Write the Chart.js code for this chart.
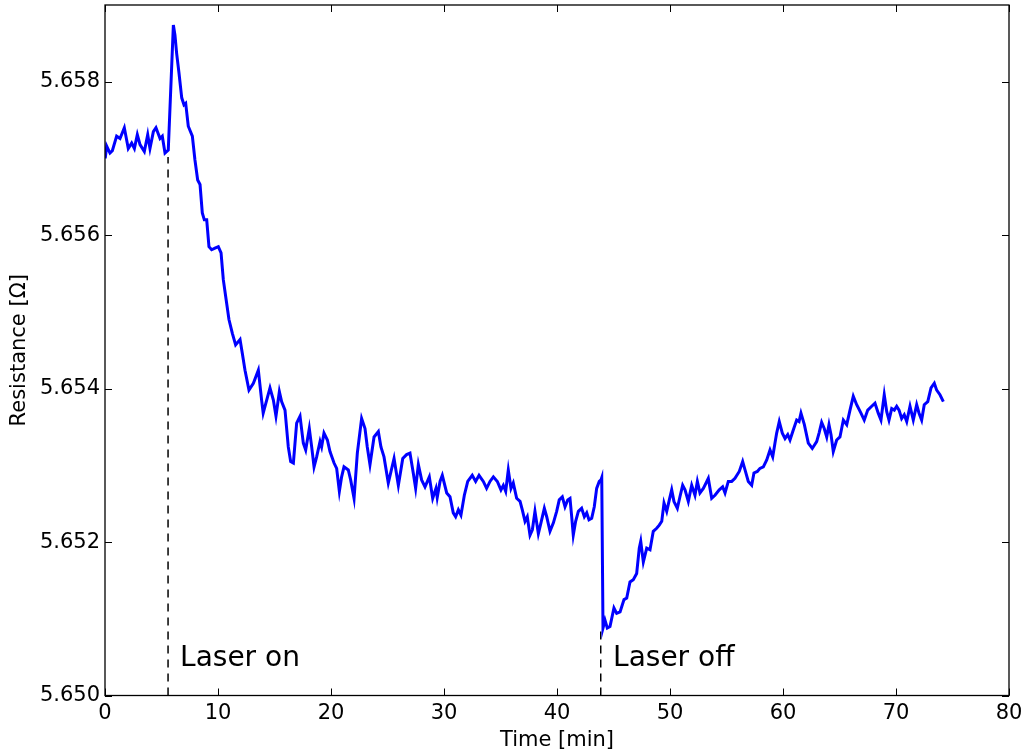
<!DOCTYPE html>
<html>
<head>
<meta charset="utf-8">
<script src="https://cdn.jsdelivr.net/npm/chart.js@4/dist/chart.umd.min.js"></script>
<style>
  html, body { margin: 0; padding: 0; background: #fff; }
</style>
</head>
<body>
<canvas id="c" width="1027" height="753"></canvas>
<script>
// time in minutes, resistance in ohm
const timeMin = [
  0.02, 0.15, 0.44, 0.65, 1.03, 1.33, 1.71, 2.06, 2.36, 2.60, 2.86, 3.10, 3.48, 3.78, 3.98,
  4.28, 4.51, 4.87, 5.07, 5.31, 5.60, 6.05, 6.19, 6.34, 6.55, 6.79, 6.99, 7.14, 7.37, 7.73,
  7.96, 8.20, 8.41, 8.61, 8.79, 9.00, 9.20, 9.44, 9.73, 10.03, 10.27, 10.47, 10.68, 10.97, 11.27,
  11.56, 11.95, 12.15, 12.39, 12.74, 13.13, 13.57, 13.86, 14.00, 14.60, 14.90, 15.13, 15.43, 15.63, 15.93,
  16.22, 16.43, 16.67, 16.96, 17.26, 17.55, 17.76, 18.08, 18.29, 18.50, 18.73, 19.03, 19.17, 19.38, 19.68,
  19.91, 20.27, 20.50, 20.74, 20.94, 21.15, 21.53, 21.74, 22.04, 22.33, 22.71, 23.01, 23.21, 23.45, 23.81,
  24.19, 24.42, 24.69, 25.07, 25.58, 25.96, 26.35, 26.69, 26.99, 27.28, 27.49, 27.73, 28.02, 28.32, 28.70,
  29.00, 29.29, 29.40, 29.65, 29.85, 30.24, 30.53, 30.82, 31.03, 31.27, 31.50, 31.80, 32.10, 32.50, 32.80,
  33.10, 33.48, 33.77, 34.07, 34.37, 34.72, 35.04, 35.25, 35.46, 35.69, 35.93, 36.13, 36.43, 36.73, 36.93,
  37.17, 37.37, 37.61, 37.82, 38.05, 38.35, 38.58, 38.88, 39.09, 39.38, 39.68, 39.97, 40.20, 40.47, 40.71,
  40.95, 41.15, 41.30, 41.44, 41.65, 41.89, 42.18, 42.42, 42.63, 42.83, 43.07, 43.30, 43.51, 43.74, 43.89,
  43.96, 44.07, 44.25, 44.45, 44.69, 45.04, 45.28, 45.58, 45.93, 46.17, 46.46, 46.75, 47.05, 47.28, 47.41,
  47.64, 47.94, 48.23, 48.52, 48.82, 49.05, 49.27, 49.47, 49.71, 49.94, 50.15, 50.35, 50.65, 50.88, 51.12,
  51.33, 51.62, 51.92, 52.21, 52.42, 52.65, 52.95, 53.19, 53.39, 53.69, 53.98, 54.36, 54.66, 54.87, 55.16,
  55.46, 55.75, 56.13, 56.43, 56.64, 56.93, 57.23, 57.43, 57.73, 57.96, 58.26, 58.56, 58.85, 59.09, 59.29,
  59.44, 59.67, 59.94, 60.18, 60.42, 60.62, 60.91, 61.21, 61.42, 61.59, 61.89, 62.24, 62.59, 62.98, 63.19,
  63.42, 63.65, 63.87, 64.07, 64.25, 64.45, 64.75, 65.04, 65.34, 65.64, 65.93, 66.22, 66.52, 66.90, 67.19,
  67.50, 67.85, 68.14, 68.43, 68.67, 68.96, 69.18, 69.38, 69.62, 69.85, 70.06, 70.27, 70.50, 70.73, 70.95,
  71.24, 71.53, 71.83, 72.04, 72.27, 72.50, 72.81, 73.10, 73.39, 73.60, 73.89, 74.19
];
const resistance = [
  5.65700, 5.65716, 5.65707, 5.65710, 5.65729, 5.65726, 5.65740, 5.65713, 5.65720, 5.65713, 5.65731, 5.65718, 5.65709, 5.65731, 5.65713,
  5.65735, 5.65740, 5.65726, 5.65729, 5.65707, 5.65711, 5.65874, 5.65861, 5.65837, 5.65811, 5.65779, 5.65770, 5.65772, 5.65742, 5.65729,
  5.65698, 5.65672, 5.65666, 5.65629, 5.65620, 5.65620, 5.65585, 5.65581, 5.65583, 5.65585, 5.65577, 5.65542, 5.65520, 5.65490, 5.65472,
  5.65457, 5.65464, 5.65446, 5.65424, 5.65398, 5.65407, 5.65424, 5.65385, 5.65368, 5.65401, 5.65385, 5.65364, 5.65396, 5.65383, 5.65372,
  5.65324, 5.65305, 5.65303, 5.65355, 5.65364, 5.65329, 5.65320, 5.65348, 5.65324, 5.65298, 5.65311, 5.65331, 5.65324, 5.65342, 5.65333,
  5.65318, 5.65303, 5.65296, 5.65266, 5.65285, 5.65298, 5.65294, 5.65281, 5.65257, 5.65316, 5.65361, 5.65348, 5.65324, 5.65301, 5.65337,
  5.65344, 5.65324, 5.65311, 5.65277, 5.65309, 5.65274, 5.65309, 5.65314, 5.65316, 5.65290, 5.65270, 5.65301, 5.65281, 5.65272, 5.65285,
  5.65257, 5.65270, 5.65258, 5.65279, 5.65287, 5.65264, 5.65259, 5.65238, 5.65233, 5.65242, 5.65235, 5.65261, 5.65279, 5.65287, 5.65279,
  5.65287, 5.65279, 5.65270, 5.65279, 5.65285, 5.65279, 5.65268, 5.65274, 5.65266, 5.65294, 5.65270, 5.65277, 5.65257, 5.65253, 5.65242,
  5.65227, 5.65233, 5.65209, 5.65216, 5.65240, 5.65211, 5.65225, 5.65244, 5.65233, 5.65214, 5.65225, 5.65240, 5.65255, 5.65259, 5.65246,
  5.65255, 5.65257, 5.65233, 5.65209, 5.65227, 5.65240, 5.65244, 5.65233, 5.65238, 5.65229, 5.65231, 5.65246, 5.65270, 5.65279, 5.65281,
  5.65284, 5.65088, 5.65098, 5.65088, 5.65090, 5.65114, 5.65107, 5.65109, 5.65125, 5.65127, 5.65148, 5.65151, 5.65159, 5.65192, 5.65201,
  5.65174, 5.65192, 5.65190, 5.65214, 5.65218, 5.65222, 5.65227, 5.65251, 5.65240, 5.65255, 5.65268, 5.65253, 5.65244, 5.65259, 5.65274,
  5.65268, 5.65253, 5.65274, 5.65261, 5.65279, 5.65264, 5.65270, 5.65277, 5.65283, 5.65257, 5.65261, 5.65268, 5.65272, 5.65264, 5.65279,
  5.65279, 5.65283, 5.65292, 5.65305, 5.65294, 5.65279, 5.65274, 5.65290, 5.65292, 5.65296, 5.65298, 5.65307, 5.65320, 5.65311, 5.65329,
  5.65342, 5.65357, 5.65342, 5.65335, 5.65340, 5.65333, 5.65346, 5.65359, 5.65357, 5.65368, 5.65353, 5.65329, 5.65322, 5.65331, 5.65342,
  5.65356, 5.65348, 5.65337, 5.65353, 5.65340, 5.65318, 5.65333, 5.65337, 5.65359, 5.65353, 5.65372, 5.65390, 5.65379, 5.65368, 5.65359,
  5.65372, 5.65377, 5.65381, 5.65368, 5.65359, 5.65392, 5.65370, 5.65359, 5.65374, 5.65372, 5.65377, 5.65372, 5.65361, 5.65366, 5.65357,
  5.65377, 5.65359, 5.65379, 5.65368, 5.65359, 5.65379, 5.65383, 5.65401, 5.65407, 5.65398, 5.65392, 5.65383
];

const xTicks = [0, 10, 20, 30, 40, 50, 60, 70, 80];
const yTicks = [5.650, 5.652, 5.654, 5.656, 5.658];

// laser switching marks: time, top of the dashed line
const laserOn = { t: 5.58, top: 5.65702, label: "Laser on", labelT: 6.64 };
const laserOff = { t: 43.87, top: 5.65089, label: "Laser off", labelT: 44.96 };
const labelR = 5.65038;

const FONT = "'DejaVu Sans', sans-serif";

const points = timeMin.map((t, i) => ({ x: t, y: resistance[i] }));

// frame, inward ticks on four sides, and the two text labels
const framePlugin = {
  id: "frame",
  afterDraw(chart) {
    const ctx = chart.ctx;
    const a = chart.chartArea;
    const xs = chart.scales.x, ys = chart.scales.y;
    const tl = 7;
    ctx.save();
    ctx.strokeStyle = "#000";
    ctx.lineWidth = 1.3;
    ctx.strokeRect(a.left, a.top, a.right - a.left, a.bottom - a.top);
    ctx.lineWidth = 1;
    ctx.beginPath();
    xTicks.forEach(v => {
      const px = Math.round(xs.getPixelForValue(v)) + 0.5;
      ctx.moveTo(px, a.bottom); ctx.lineTo(px, a.bottom - tl);
      ctx.moveTo(px, a.top); ctx.lineTo(px, a.top + tl);
    });
    yTicks.forEach(v => {
      const py = Math.round(ys.getPixelForValue(v)) + 0.5;
      ctx.moveTo(a.left, py); ctx.lineTo(a.left + tl, py);
      ctx.moveTo(a.right, py); ctx.lineTo(a.right - tl, py);
    });
    ctx.stroke();

    ctx.fillStyle = "#000";
    ctx.font = "28px " + FONT;
    ctx.textAlign = "left";
    ctx.textBaseline = "alphabetic";
    [laserOn, laserOff].forEach(m => {
      ctx.fillText(m.label, xs.getPixelForValue(m.labelT), ys.getPixelForValue(labelR));
    });
    ctx.restore();
  }
};

new Chart(document.getElementById("c"), {
  type: "scatter",
  data: {
    datasets: [
      {
        data: points,
        showLine: true,
        borderColor: "#0000ff",
        borderWidth: 3,
        pointRadius: 0,
        tension: 0,
        fill: false
      },
      {
        data: [{ x: laserOn.t, y: 5.650 }, { x: laserOn.t, y: laserOn.top }],
        showLine: true,
        borderColor: "#000",
        borderWidth: 1.5,
        borderDash: [8, 6],
        pointRadius: 0
      },
      {
        data: [{ x: laserOff.t, y: 5.650 }, { x: laserOff.t, y: laserOff.top }],
        showLine: true,
        borderColor: "#000",
        borderWidth: 1.5,
        borderDash: [8, 6],
        pointRadius: 0
      }
    ]
  },
  options: {
    responsive: false,
    animation: false,
    devicePixelRatio: 1,
    layout: { padding: { top: 5, right: 18, left: 0, bottom: 0 } },
    plugins: { legend: { display: false }, tooltip: { enabled: false } },
    scales: {
      x: {
        type: "linear",
        min: 0,
        max: 80,
        grid: { display: false, drawTicks: false },
        border: { display: false },
        afterBuildTicks: s => { s.ticks = xTicks.map(v => ({ value: v })); },
        afterFit: s => { s.height = 57.5; s.paddingLeft = 0; s.paddingRight = 0; },
        ticks: {
          color: "#000",
          font: { family: FONT, size: 21 },
          padding: 5,
          maxRotation: 0,
          autoSkip: false
        },
        title: {
          display: true,
          text: "Time [min]",
          color: "#000",
          font: { family: FONT, size: 21 },
          padding: { top: 0, bottom: 0 }
        }
      },
      y: {
        type: "linear",
        min: 5.650,
        max: 5.659,
        grid: { display: false, drawTicks: false },
        border: { display: false },
        afterBuildTicks: s => { s.ticks = yTicks.map(v => ({ value: v })); },
        afterFit: s => { s.width = 105; s.paddingTop = 0; s.paddingBottom = 0; },
        ticks: {
          color: "#000",
          font: { family: FONT, size: 21 },
          padding: 5,
          callback: v => v.toFixed(3)
        },
        title: {
          display: true,
          text: "Resistance [Ω]",
          color: "#000",
          font: { family: FONT, size: 21 },
          padding: { top: 7, bottom: 0 }
        }
      }
    }
  },
  plugins: [framePlugin]
});
</script>
</body>
</html>
